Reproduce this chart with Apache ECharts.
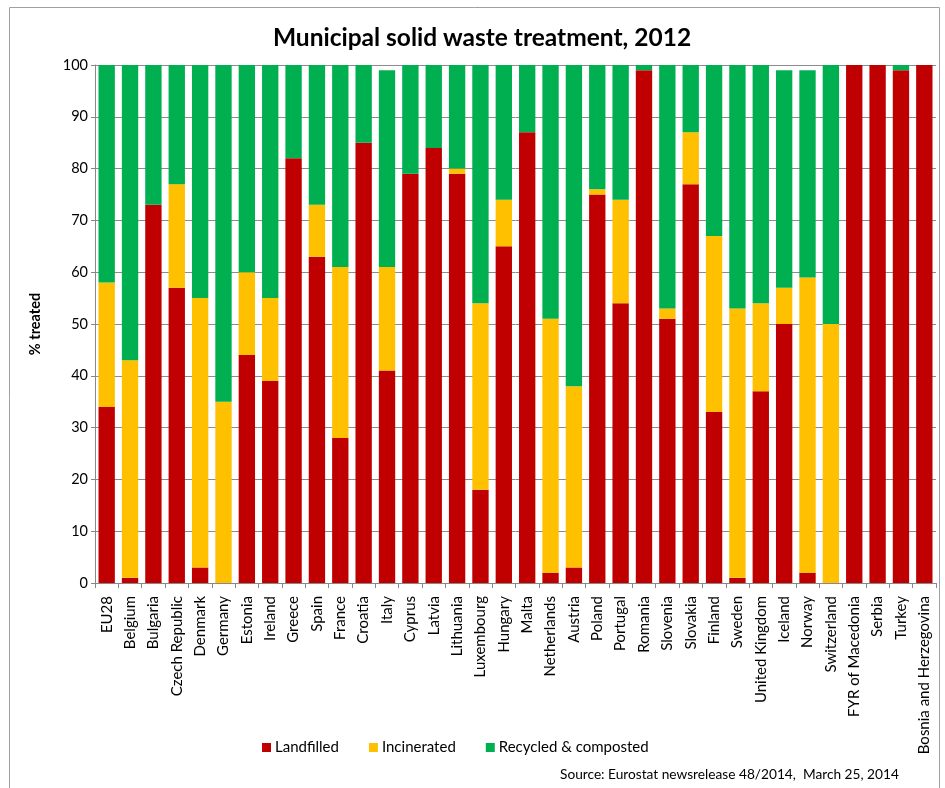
<!DOCTYPE html>
<html>
<head>
<meta charset="utf-8">
<script src="https://cdn.jsdelivr.net/npm/echarts@6/dist/echarts.min.js"></script>
<style>html,body{margin:0;padding:0;background:#fff}#c{width:945px;height:788px}</style>
</head>
<body>
<div id="c"></div>
<script>
var categories = ["EU28","Belgium","Bulgaria","Czech Republic","Denmark","Germany","Estonia","Ireland","Greece","Spain","France","Croatia","Italy","Cyprus","Latvia","Lithuania","Luxembourg","Hungary","Malta","Netherlands","Austria","Poland","Portugal","Romania","Slovenia","Slovakia","Finland","Sweden","United Kingdom","Iceland","Norway","Switzerland","FYR of Macedonia","Serbia","Turkey","Bosnia and Herzegovina"];
var landfilled  = [34,1,73,57,3,0,44,39,82,63,28,85,41,79,84,79,18,65,87,2,3,75,54,99,51,77,33,1,37,50,2,0,100,100,99,100];
var incinerated = [24,42,0,20,52,35,16,16,0,10,33,0,20,0,0,1,36,9,0,49,35,1,20,0,2,10,34,52,17,7,57,50,0,0,0,0];
var recycled    = [42,57,27,23,45,65,40,45,18,27,39,15,38,21,16,20,46,26,13,49,62,24,26,1,47,13,33,47,46,42,40,50,0,0,1,0];
var yTicks = [0,10,20,30,40,50,60,70,80,90,100];

var FONT = 'Lato, "Open Sans", sans-serif';
var chart = echarts.init(document.getElementById('c'));
chart.setOption({
  animation: false,
  textStyle: {fontFamily: FONT},
  title: {
    text: 'Municipal solid waste treatment, 2012',
    left: 477, top: 21, textAlign: 'center',
    textStyle: {fontFamily: FONT, fontSize: 24.5, fontWeight: 'bold', color: '#000'}
  },
  graphic: [
    {type: 'rect', shape: {x: 9.5, y: 7.5, width: 930, height: 800}, style: {fill: 'none', stroke: '#a0a0a0', lineWidth: 1}, z: -1},
    {type: 'text', left: 560, top: 768, style: {text: 'Source: Eurostat newsrelease 48/2014,  March 25, 2014', font: '13.7px ' + FONT, fill: '#000'}}
  ],
  legend: {
    left: 257, top: 735,
    itemWidth: 9, itemHeight: 9, itemGap: 30,
    icon: 'rect',
    textStyle: {fontFamily: FONT, fontSize: 15, color: '#000', padding: [0,0,0,-1]},
    data: ['Landfilled','Incinerated','Recycled & composted']
  },
  grid: {left: 95, right: 9, top: 65, bottom: 205},
  xAxis: {
    type: 'category',
    data: categories,
    axisLine: {lineStyle: {color: '#888', width: 1}},
    axisTick: {show: true, length: 5, lineStyle: {color: '#888'}},
    axisLabel: {rotate: 90, interval: 0, margin: 13, fontSize: 15, color: '#000', fontFamily: FONT}
  },
  yAxis: {
    type: 'value', min: 0, max: 100, interval: 10,
    name: '% treated', nameLocation: 'middle', nameGap: 52, nameRotate: 90,
    nameTextStyle: {fontFamily: FONT, fontSize: 14.5, fontWeight: 'bold', color: '#000'},
    axisLine: {show: true, lineStyle: {color: '#888', width: 1}},
    axisTick: {show: true, length: 4, lineStyle: {color: '#888'}},
    axisLabel: {fontSize: 14.5, color: '#000', margin: 7, fontFamily: FONT,
      formatter: function (v) { return yTicks.indexOf(v) >= 0 ? String(v) : ''; }},
    splitLine: {lineStyle: {color: '#8c8c8c', width: 1}}
  },
  series: [
    {name: 'Landfilled', type: 'bar', stack: 't', data: landfilled, barCategoryGap: '30%', itemStyle: {color: '#C00000'}},
    {name: 'Incinerated', type: 'bar', stack: 't', data: incinerated, itemStyle: {color: '#FFC000'}},
    {name: 'Recycled & composted', type: 'bar', stack: 't', data: recycled, itemStyle: {color: '#00B050'}}
  ]
});
</script>
</body>
</html>
